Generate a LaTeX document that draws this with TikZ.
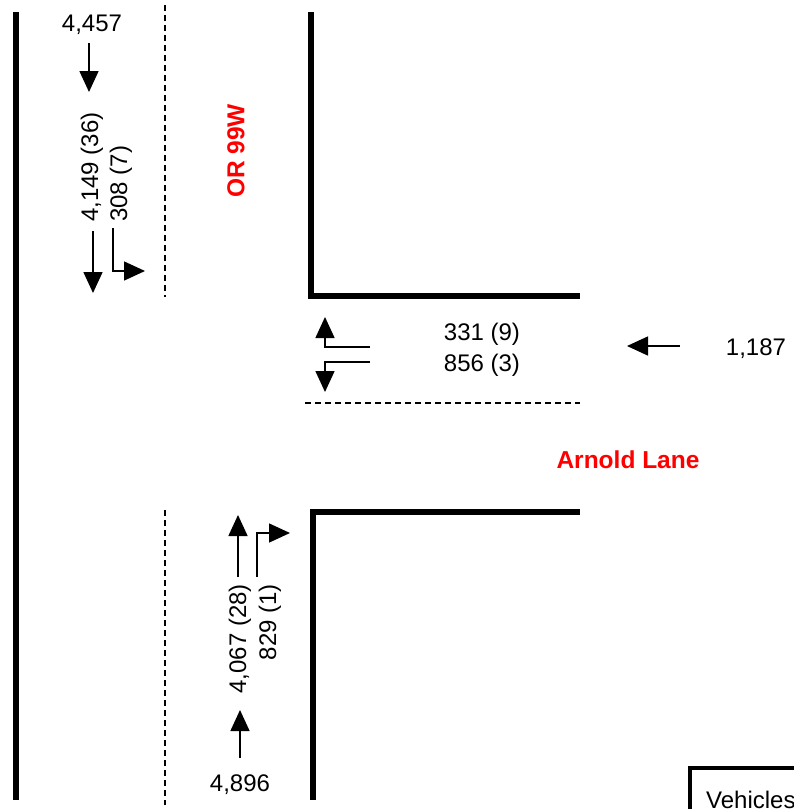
\documentclass[tikz,border=0pt]{standalone}
\usepackage{fontspec}
\setmainfont{Liberation Sans}
\usetikzlibrary{arrows.meta}
\definecolor{labelred}{RGB}{255,0,0}
\begin{document}
\begin{tikzpicture}[x=1pt,y=-1pt,
  curb/.style={line width=6pt},
  lanedash/.style={line width=1.3pt,dash pattern=on 6pt off 4pt},
  flow/.style={line width=1.5pt,-{Triangle[length=21pt,width=19pt]}},
  txt/.style={font=\fontsize{24}{27}\selectfont,inner sep=0pt},
  street/.style={font=\fontsize{24.5}{27}\selectfont\bfseries,text=labelred,inner sep=0pt}]
\useasboundingbox (0,0) rectangle (794,809);
% curbs
\draw[curb] (16,12) -- (16,800);
\draw[curb] (311,12) -- (311,296) -- (580,296);
\draw[curb] (580,512) -- (313,512) -- (313,800);
% lane lines
\draw[lanedash] (165,5) -- (165,297);
\draw[lanedash] (165,510) -- (165,805);
\draw[lanedash] (305,403) -- (580,403);
% street labels
\node[street,rotate=90] (or99w) at (236,151) {OR 99W};
\node[street] (arnold) at (628,460) {Arnold Lane};
% southbound approach (top)
\node[txt] (sbtot) at (92,25) {4,457};
\coordinate (sbA) at (89,43);
\coordinate (sbB) at (89,92);
\draw[flow] (sbA) -- (sbB);
\node[txt,rotate=90,anchor=west] (sbthru) at (92,222) {4,149 (36)};
\node[txt,rotate=90,anchor=west] (sbleft) at (121,222) {308 (7)};
\coordinate (sbt1) at (93,231);
\coordinate (sbt2) at (93,293);
\draw[flow] (sbt1) -- (sbt2);
\coordinate (sbl1) at (113,228);
\coordinate (sbl2) at (145,271);
\draw[flow] (sbl1) |- (sbl2);
% westbound approach (right)
\node[txt] (wbtot) at (756,349) {1,187};
\coordinate (wbA) at (680,346);
\coordinate (wbB) at (627,346);
\draw[flow] (wbA) -- (wbB);
\node[txt] (wbright) at (482,334) {331 (9)};
\node[txt] (wbleft) at (482,365) {856 (3)};
\coordinate (wbr1) at (370,347);
\coordinate (wbr2) at (325,317);
\draw[flow] (wbr1) -| (wbr2);
\coordinate (wbl1) at (370,362);
\coordinate (wbl2) at (325,392);
\draw[flow] (wbl1) -| (wbl2);
% northbound approach (bottom)
\node[txt] (nbtot) at (240,785) {4,896};
\coordinate (nbA) at (240,758);
\coordinate (nbB) at (240,710);
\draw[flow] (nbA) -- (nbB);
\node[txt,rotate=90,anchor=east] (nbthru) at (240,584) {4,067 (28)};
\node[txt,rotate=90,anchor=east] (nbright) at (270,584) {829 (1)};
\coordinate (nbt1) at (238,577);
\coordinate (nbt2) at (238,515);
\draw[flow] (nbt1) -- (nbt2);
\coordinate (nbr1) at (257,577);
\coordinate (nbr2) at (290,533);
\draw[flow] (nbr1) |- (nbr2);
% legend box (cropped at the page edge, as in the reference)
\draw[line width=4pt] (690,820) -- (690,768) -- (810,768);
\node[txt,anchor=base west] (legend) at (706,808) {Vehicles};
\end{tikzpicture}
\end{document}
